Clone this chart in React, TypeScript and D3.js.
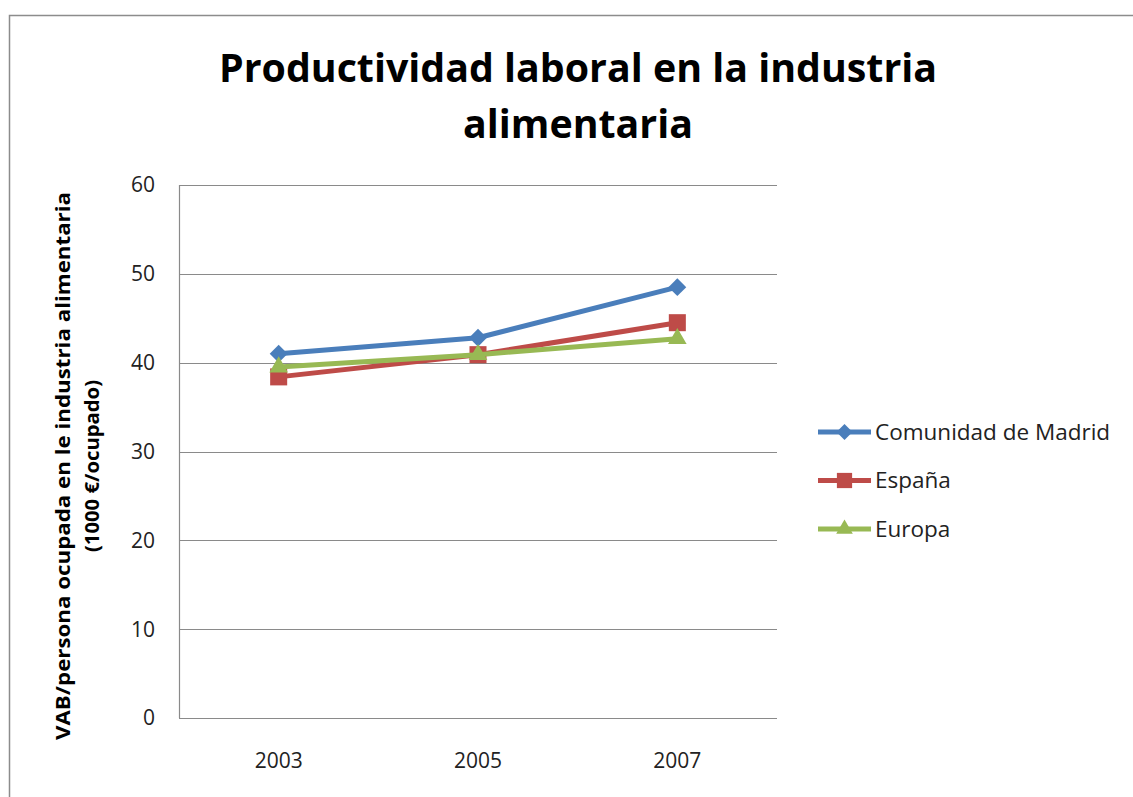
import { useEffect, useRef } from "react";
import * as d3 from "d3";

const years = ["2003", "2005", "2007"];
const seriesNames = ["Comunidad de Madrid", "España", "Europa"];
const madrid = [41.0, 42.8, 48.5];
const espana = [38.4, 40.9, 44.5];
const europa = [39.5, 40.9, 42.7];
const yTicks = [0, 10, 20, 30, 40, 50, 60];

const colors = ["#4A7EBB", "#BE4B48", "#98B954"];
const markers = [d3.symbolSquare, d3.symbolSquare, d3.symbolTriangle];
const markerSizes = [160, 290, 150];
const markerRotate = [45, 0, 0];

export default function App() {
    const chartRef = useRef<SVGSVGElement | null>(null);

    useEffect(() => {
        if (!chartRef.current) return;

        const width = 1133;
        const height = 797;
        const font = "Open Sans, Noto Sans, sans-serif";

        d3.select(chartRef.current).selectAll("*").remove();

        const svg = d3
            .select(chartRef.current)
            .attr("width", width)
            .attr("height", height);

        svg.append("rect").attr("width", width).attr("height", height).attr("fill", "#fff");

        // outer chart frame
        svg
            .append("rect")
            .attr("x", 9.5)
            .attr("y", 15.5)
            .attr("width", width + 20)
            .attr("height", height + 20)
            .attr("fill", "none")
            .attr("stroke", "#8c8c8c")
            .attr("stroke-width", 1.5);

        // title
        const title = svg
            .append("text")
            .attr("text-anchor", "middle")
            .attr("font-family", font)
            .attr("font-weight", "bold")
            .attr("font-size", 39)
            .attr("fill", "#000");
        title.append("tspan").attr("x", 578).attr("y", 82)
            .attr("textLength", 718).attr("lengthAdjust", "spacingAndGlyphs")
            .text("Productividad laboral en la industria");
        title.append("tspan").attr("x", 578).attr("y", 138)
            .attr("textLength", 230).attr("lengthAdjust", "spacingAndGlyphs")
            .text("alimentaria");

        const left = 179;
        const right = 777;
        const top = 185;
        const bottom = 718;

        const x = d3.scaleBand().domain(years).range([left, right]);
        const y = d3.scaleLinear().domain([0, 60]).range([bottom, top]);
        const cx = (i: number) => (x(years[i]) as number) + x.bandwidth() / 2;

        // gridlines
        svg
            .append("g")
            .selectAll("line")
            .data(yTicks.filter((t) => t > 0))
            .join("line")
            .attr("x1", left)
            .attr("x2", right)
            .attr("y1", (d) => Math.round(y(d)) + 0.5)
            .attr("y2", (d) => Math.round(y(d)) + 0.5)
            .attr("stroke", "#8a8a8a")
            .attr("stroke-width", 1.2);

        // axes lines
        svg.append("line")
            .attr("x1", left + 0.5).attr("x2", left + 0.5)
            .attr("y1", top).attr("y2", bottom)
            .attr("stroke", "#8a8a8a").attr("stroke-width", 1.2);
        svg.append("line")
            .attr("x1", left).attr("x2", right)
            .attr("y1", bottom + 0.5).attr("y2", bottom + 0.5)
            .attr("stroke", "#8a8a8a").attr("stroke-width", 1.2);

        // y tick labels
        svg
            .append("g")
            .selectAll("text")
            .data(yTicks)
            .join("text")
            .attr("x", 155)
            .attr("y", (d) => y(d))
            .attr("dy", "0.35em")
            .attr("text-anchor", "end")
            .attr("font-family", font)
            .attr("font-size", 21)
            .attr("fill", "#222")
            .text((d) => d);

        // x tick labels
        svg
            .append("g")
            .selectAll("text")
            .data(years)
            .join("text")
            .attr("x", (_, i) => cx(i))
            .attr("y", 768)
            .attr("text-anchor", "middle")
            .attr("font-family", font)
            .attr("font-size", 21)
            .attr("fill", "#222")
            .text((d) => d);

        // y axis title
        const yTitle = svg
            .append("text")
            .attr("transform", "rotate(-90)")
            .attr("text-anchor", "middle")
            .attr("font-family", font)
            .attr("font-weight", "bold")
            .attr("font-size", 20)
            .attr("fill", "#000");
        yTitle.append("tspan").attr("x", -466).attr("y", 70)
            .attr("textLength", 548).attr("lengthAdjust", "spacingAndGlyphs")
            .text("VAB/persona ocupada en le industria alimentaria");
        yTitle.append("tspan").attr("x", -466).attr("y", 99)
            .attr("textLength", 172).attr("lengthAdjust", "spacingAndGlyphs")
            .text("(1000 €/ocupado)");

        const allSeries = [madrid, espana, europa];
        const line = d3
            .line<number>()
            .x((_, i) => cx(i))
            .y((d) => y(d));

        allSeries.forEach((values, s) => {
            svg
                .append("path")
                .attr("d", line(values) as string)
                .attr("fill", "none")
                .attr("stroke", colors[s])
                .attr("stroke-width", 5)
                .attr("stroke-linejoin", "round");

            svg
                .append("g")
                .selectAll("path")
                .data(values)
                .join("path")
                .attr("transform", (d, i) =>
                    `translate(${cx(i)},${y(d)}) rotate(${markerRotate[s]})`)
                .attr("d", d3.symbol().type(markers[s]).size(markerSizes[s]) as any)
                .attr("fill", colors[s]);
        });

        // legend
        const legend = svg
            .append("g")
            .selectAll("g")
            .data(seriesNames)
            .join("g")
            .attr("transform", (_, i) => `translate(818,${432 + i * 48.5})`);

        legend
            .append("line")
            .attr("x1", 0)
            .attr("x2", 53)
            .attr("stroke", (_, i) => colors[i])
            .attr("stroke-width", 5);
        legend
            .append("path")
            .attr("transform", (_, i) => `translate(26.5,0) rotate(${markerRotate[i]})`)
            .attr("d", (_, i) => d3.symbol().type(markers[i]).size(markerSizes[i] * 0.8)() as string)
            .attr("fill", (_, i) => colors[i]);
        legend
            .append("text")
            .attr("x", 57)
            .attr("dy", "0.35em")
            .attr("font-family", font)
            .attr("font-size", 22.5)
            .attr("fill", "#222")
            .text((d) => d);
    }, []);

    return (
        <svg
            ref={(el) => { if (el) chartRef.current = el; }}
            style={{ position: "absolute", left: 0, top: 0, display: "block" }}
        />
    );
}
